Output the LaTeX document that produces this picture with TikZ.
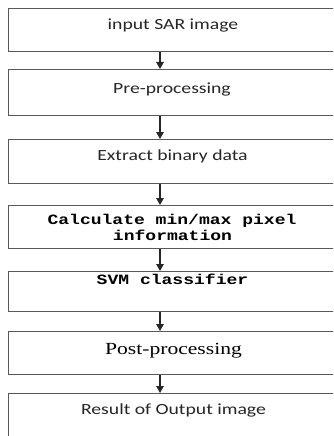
\documentclass[tikz,border=0pt]{standalone}
\usepackage{fontspec}
\usetikzlibrary{arrows.meta}
\newfontfamily\calfont{Carlito}
\newfontfamily\courfont{Liberation Mono}
\newfontfamily\serfont{Liberation Serif}
\newcommand{\hs}[1]{\scalebox{1.27}[1]{#1}}
\tikzset{
  stagebox/.style={draw=black!65, line width=1.2pt, rectangle, anchor=north west, minimum width=330pt, inner sep=0pt},
  cal/.style={anchor=base, inner sep=0pt, text=black!85, font=\calfont\fontsize{15.5}{18}\selectfont},
  cour/.style={anchor=base, inner sep=0pt, text=black, font=\courfont\bfseries\fontsize{14.2}{17}\selectfont},
  ser/.style={anchor=base, inner sep=0pt, text=black, font=\serfont\fontsize{17}{20}\selectfont},
  arr/.style={line width=1.4pt, black!85, -{Triangle[length=7pt,width=7.5pt]}}
}
\begin{document}
\begin{tikzpicture}[x=1pt,y=-1pt]
\useasboundingbox (0,0) rectangle (333,436);
\fill[white] (0,0) rectangle (333,436);
\begin{scope}
\clip (0,0) rectangle (333,436);
\node[stagebox, minimum height=43pt] (b1) at (8,8) {};
\node[stagebox, minimum height=46pt] (b2) at (8,69) {};
\node[stagebox, minimum height=44pt] (b3) at (8,139) {};
\node[stagebox, minimum height=43pt] (b4) at (8,205) {};
\node[stagebox, minimum height=40pt] (b5) at (8,271) {};
\node[stagebox, minimum height=43pt] (b6) at (8,331) {};
\node[stagebox, minimum height=60pt] (b7) at (8,393) {};
\end{scope}
\node[cal] (t1) at (173,29.5) {\hs{input SAR image}};
\node[cal] (t2) at (172,93.3) {\hs{Pre-processing}};
\node[cal] (t3) at (172.5,160.7) {\hs{Extract binary data}};
\node[cour] (t4a) at (172,224) {\hs{Calculate min/max pixel}};
\node[cour] (t4b) at (172.5,240.5) {\hs{information}};
\node[cour] (t5) at (172.5,284) {\hs{SVM classifier}};
\node[ser] (t6) at (173.5,354) {\hs{Post-processing}};
\node[cal] (t7) at (173.5,414.3) {\hs{Result of Output image}};
\coordinate (ax) at (160,0);
\draw[arr] (b1.south -| ax) -- (b2.north -| ax);
\draw[arr] (b2.south -| ax) -- (b3.north -| ax);
\draw[arr] (b3.south -| ax) -- (b4.north -| ax);
\draw[arr] (b4.south -| ax) -- (b5.north -| ax);
\draw[arr] (b5.south -| ax) -- (b6.north -| ax);
\draw[arr] (b6.south -| ax) -- (b7.north -| ax);
\end{tikzpicture}
\end{document}
